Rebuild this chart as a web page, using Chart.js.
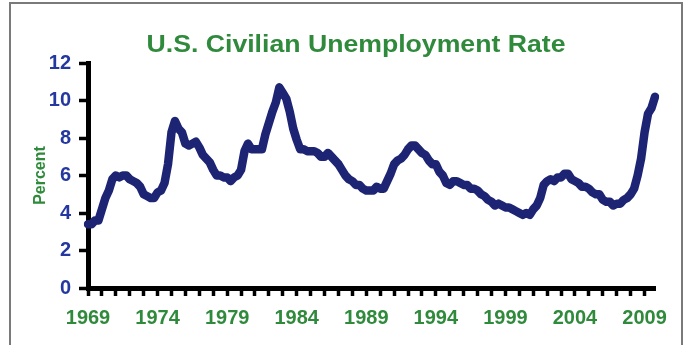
<!DOCTYPE html>
<html>
<head>
<meta charset="utf-8">
<script src="https://cdn.jsdelivr.net/npm/chart.js@4/dist/chart.umd.min.js"></script>
<style>
  html, body { margin: 0; padding: 0; background: #ffffff; overflow: hidden; }
  #wrap { position: relative; width: 688px; height: 345px; }
  #frame { position: absolute; left: 9px; top: 2px; width: 674px; height: 400px; border: 2px solid #7a7a7a; box-sizing: border-box; }
  canvas { position: absolute; left: 0; top: 0; }
</style>
</head>
<body>
<div id="wrap">
  <div id="frame"></div>
  <canvas id="c" width="688" height="345"></canvas>
</div>
<script>
// ---- Data (quarterly) ----
const chartTitle = 'U.S. Civilian Unemployment Rate';
const yAxisTitle = 'Percent';
const years = [1969,1970,1971,1972,1973,1974,1975,1976,1977,1978,1979,1980,1981,1982,1983,1984,1985,1986,1987,1988,1989,1990,1991,1992,1993,1994,1995,1996,1997,1998,1999,2000,2001,2002,2003,2004,2005,2006,2007,2008,2009];
const quarters = ['Q1','Q2','Q3','Q4'];
const xTickLabels = ['1969','1974','1979','1984','1989','1994','1999','2004','2009'];
const yTickValues = [0,2,4,6,8,10,12];
const unemploymentRate = [
  3.4, 3.4, 3.6, 3.6,   // 1969
  4.2, 4.8, 5.2, 5.8,   // 1970
  6.0, 5.9, 6.0, 6.0,   // 1971
  5.8, 5.7, 5.6, 5.4,   // 1972
  5.0, 4.9, 4.8, 4.8,   // 1973
  5.1, 5.2, 5.6, 6.6,   // 1974
  8.3, 8.9, 8.5, 8.3,   // 1975
  7.7, 7.6, 7.7, 7.8,   // 1976
  7.5, 7.1, 6.9, 6.7,   // 1977
  6.3, 6.0, 6.0, 5.9,   // 1978
  5.9, 5.7, 5.9, 6.0,   // 1979
  6.3, 7.3, 7.7, 7.4,   // 1980
  7.4, 7.4, 7.4, 8.2,   // 1981
  8.8, 9.4, 9.9, 10.7,  // 1982
  10.4, 10.1, 9.4, 8.5, // 1983
  7.9, 7.4, 7.4, 7.3,   // 1984
  7.3, 7.3, 7.2, 7.0,   // 1985
  7.0, 7.2, 7.0, 6.8,   // 1986
  6.6, 6.3, 6.0, 5.8,   // 1987
  5.7, 5.5, 5.5, 5.3,   // 1988
  5.2, 5.2, 5.2, 5.4,   // 1989
  5.3, 5.3, 5.7, 6.1,   // 1990
  6.6, 6.8, 6.9, 7.1,   // 1991
  7.4, 7.6, 7.6, 7.4,   // 1992
  7.2, 7.1, 6.8, 6.6,   // 1993
  6.6, 6.2, 6.0, 5.6,   // 1994
  5.5, 5.7, 5.7, 5.6,   // 1995
  5.5, 5.5, 5.3, 5.3,   // 1996
  5.2, 5.0, 4.9, 4.7,   // 1997
  4.6, 4.4, 4.5, 4.4,   // 1998
  4.3, 4.3, 4.2, 4.1,   // 1999
  4.0, 3.9, 4.0, 3.9,   // 2000
  4.2, 4.4, 4.8, 5.5,   // 2001
  5.7, 5.8, 5.7, 5.9,   // 2002
  5.9, 6.1, 6.1, 5.8,   // 2003
  5.7, 5.6, 5.4, 5.4,   // 2004
  5.3, 5.1, 5.0, 5.0,   // 2005
  4.7, 4.6, 4.6, 4.4,   // 2006
  4.5, 4.5, 4.7, 4.8,   // 2007
  5.0, 5.3, 6.0, 6.9,   // 2008
  8.3, 9.3, 9.6, 10.2   // 2009
];

// ---- Build categories ----
const categories = [];
years.forEach(y => quarters.forEach(q => categories.push(y + ' ' + q)));

const GREEN = '#2f8a3c';
const BLUE = '#2538a0';
const NAVY = '#1d2474';
const FONT = "'Liberation Sans', Arial, sans-serif";

const titlePlugin = {
  id: 'customTitle',
  afterDraw(chart) {
    const ctx = chart.ctx;
    ctx.save();
    ctx.font = 'bold 24px ' + FONT;
    ctx.fillStyle = GREEN;
    ctx.textAlign = 'center';
    ctx.textBaseline = 'middle';
    ctx.translate(356, 45);
    ctx.scale(1.11, 1);
    ctx.fillText(chartTitle, 0, 0);
    ctx.restore();
  }
};

new Chart(document.getElementById('c'), {
  type: 'line',
  data: {
    labels: categories,
    datasets: [{
      data: unemploymentRate,
      borderColor: NAVY,
      borderWidth: 8.5,
      pointRadius: 0,
      tension: 0,
      borderJoinStyle: 'round',
      borderCapStyle: 'round',
      fill: false
    }]
  },
  options: {
    responsive: false,
    animation: false,
    devicePixelRatio: 1,
    layout: { padding: { left: 0, right: 33, top: 63, bottom: 0 } },
    plugins: { legend: { display: false }, tooltip: { enabled: false }, title: { display: false } },
    scales: {
      x: {
        type: 'category',
        offset: false,
        afterFit(scale) { scale.height = 57; },
        afterBuildTicks(scale) { scale.ticks = scale.ticks.filter(t => t.value % 4 === 0); },
        border: { display: true, color: '#000', width: 5 },
        grid: { drawOnChartArea: false, drawTicks: true, tickLength: 8, tickWidth: 3.5, color: '#000' },
        ticks: {
          autoSkip: false,
          maxRotation: 0,
          padding: 10,
          color: GREEN,
          font: { family: FONT, size: 20, weight: 'bold' },
          callback(value) {
            const yr = String(years[Math.floor(value / 4)]);
            return (value % 4 === 0 && xTickLabels.includes(yr)) ? yr : '';
          }
        }
      },
      y: {
        min: 0, max: 12,
        afterFit(scale) { scale.width = 88; },
        afterBuildTicks(scale) { scale.ticks = yTickValues.map(v => ({ value: v })); },
        border: { display: true, color: '#000', width: 5 },
        grid: { drawOnChartArea: false, drawTicks: true, tickLength: 9, tickWidth: 3.5, color: '#000' },
        title: {
          display: true,
          text: yAxisTitle,
          color: GREEN,
          font: { family: FONT, size: 16, weight: 'bold' },
          padding: { top: 31, bottom: 0 }
        },
        ticks: {
          padding: 8,
          color: BLUE,
          font: { family: FONT, size: 20, weight: 'bold' }
        }
      }
    }
  },
  plugins: [titlePlugin]
});
</script>
</body>
</html>
